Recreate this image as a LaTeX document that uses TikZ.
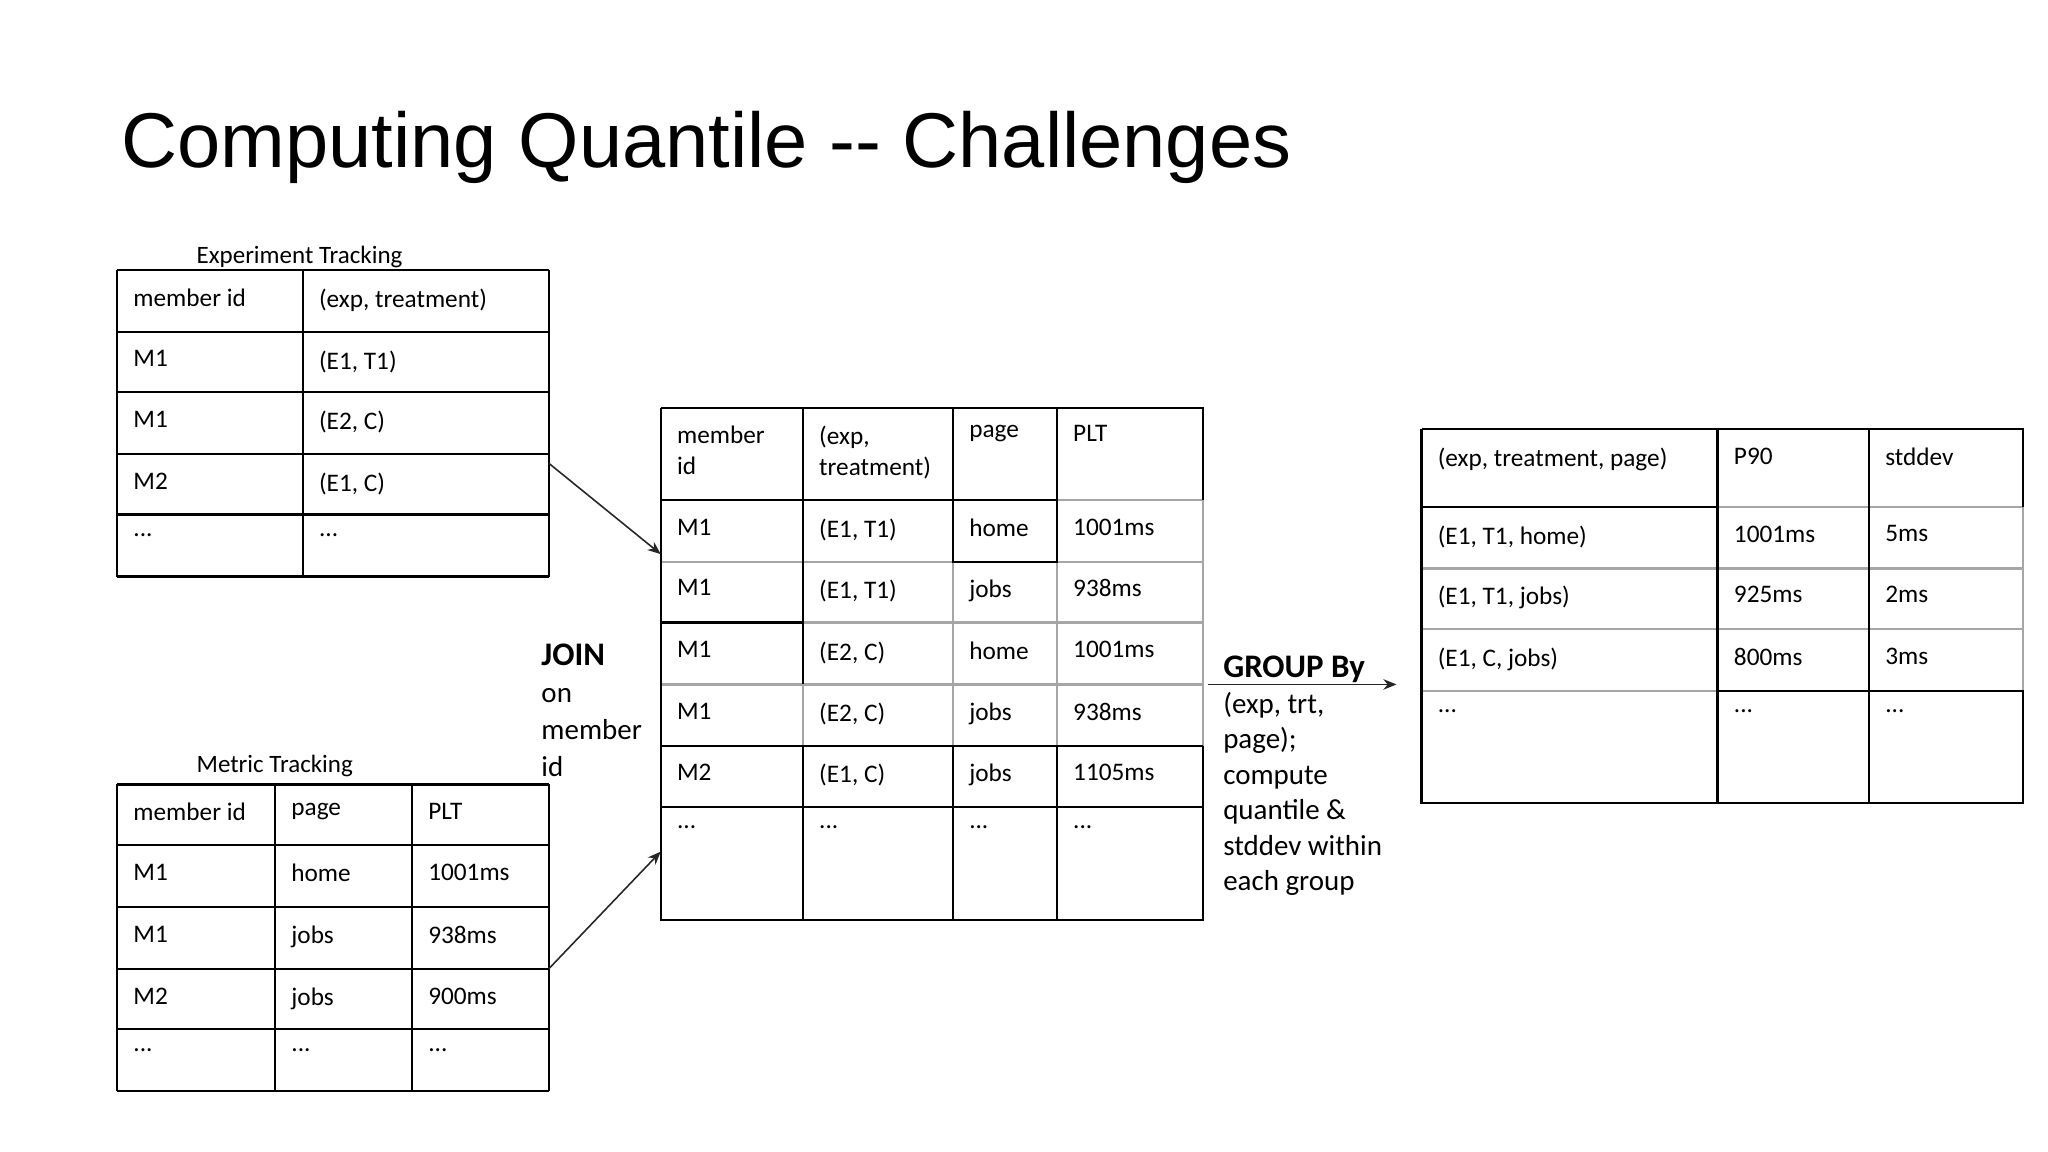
\documentclass[tikz,border=0pt]{standalone}
\usepackage{fontspec}
\setmainfont{Carlito}
\newfontfamily\titlefont{Liberation Sans}
\usetikzlibrary{arrows.meta}
\begin{document}
\begin{tikzpicture}[x=0.5pt,y=-0.5pt,
  cell/.style={anchor=north west,inner sep=0pt,font=\fontsize{9.6}{11.8}\selectfont,align=left},
  bl/.style={black,line width=0.9pt},
  gr/.style={black!35,line width=0.9pt},
  arr/.style={-{Stealth[length=5pt,width=4pt]},black!85,line width=0.6pt}]
\useasboundingbox (0,0) rectangle (1556,875);
\node[anchor=base west,inner sep=0pt,font=\titlefont\fontsize{29.5}{34}\selectfont] (title) at (92,127) {Computing Quantile -- Challenges};
% Experiment tracking
\node[anchor=base west,inner sep=0pt,font=\fontsize{9.5}{11}\selectfont] (lab1) at (149,200) {Experiment Tracking};
\foreach \y in {205,252,298,345,391,438} \draw[bl] (89,\y) -- (417,\y);
\foreach \x in {89,230,417} \draw[bl] (\x,205) -- (\x,438);
\node[cell] (e11) at (101,219) {member id}; \node[cell] (e12) at (242,219) {(exp, treatment)};
\node[cell] (e21) at (101,266) {M1}; \node[cell] (e22) at (242,266) {(E1, T1)};
\node[cell] (e31) at (101,312) {M1}; \node[cell] (e32) at (242,312) {(E2, C)};
\node[cell] (e41) at (101,359) {M2}; \node[cell] (e42) at (242,359) {(E1, C)};
\node[cell] (e51) at (101,405) {...}; \node[cell] (e52) at (242,405) {...};
\coordinate (eout) at (417,352);
% Metric tracking
\node[anchor=base west,inner sep=0pt,font=\fontsize{9.5}{11}\selectfont] (lab2) at (149,587) {Metric Tracking};
\foreach \y in {596,642,689,736,782,829} \draw[bl] (89,\y) -- (417,\y);
\foreach \x in {89,209,313,417} \draw[bl] (\x,596) -- (\x,829);
\node[cell] (m11) at (101,610) {member id}; \node[cell] (m12) at (221,610) {page}; \node[cell] (m13) at (325,610) {PLT};
\node[cell] (m21) at (101,656) {M1}; \node[cell] (m22) at (221,656) {home}; \node[cell] (m23) at (325,656) {1001ms};
\node[cell] (m31) at (101,703) {M1}; \node[cell] (m32) at (221,703) {jobs}; \node[cell] (m33) at (325,703) {938ms};
\node[cell] (m41) at (101,750) {M2}; \node[cell] (m42) at (221,750) {jobs}; \node[cell] (m43) at (325,750) {900ms};
\node[cell] (m51) at (101,796) {...}; \node[cell] (m52) at (221,796) {...}; \node[cell] (m53) at (325,796) {...};
\coordinate (mout) at (417,736);
% Joined table
\draw[gr] (803,380) -- (914,380);
\draw[gr] (502,427) -- (914,427) (502,473) -- (914,473) (502,520) -- (914,520);
\draw[gr] (914,380) -- (914,567);
\draw[gr] (724,427) -- (724,567) (803,427) -- (803,567) (610,520) -- (610,567);
\draw[bl] (502,310) -- (914,310) -- (914,380);
\draw[bl] (502,380) -- (803,380) -- (803,310) (724,310) -- (724,427) -- (803,427) -- (803,380);
\draw[bl] (502,473) -- (610,473);
\draw[bl] (502,567) -- (914,567) (502,613) -- (914,613);
\draw[bl] (502,310) -- (502,699) -- (914,699) -- (914,567);
\draw[bl] (610,310) -- (610,520) (610,567) -- (610,699) (724,567) -- (724,699) (803,567) -- (803,699);
\node[cell] (j11) at (514,323) {member\\id}; \node[cell] (j12) at (622,323) {(exp,\\treatment)};
\node[cell] (j13) at (736,323) {page}; \node[cell] (j14) at (815,323) {PLT};
\node[cell] (j21) at (514,394) {M1}; \node[cell] (j22) at (622,394) {(E1, T1)}; \node[cell] (j23) at (736,394) {home}; \node[cell] (j24) at (815,394) {1001ms};
\node[cell] (j31) at (514,440) {M1}; \node[cell] (j32) at (622,440) {(E1, T1)}; \node[cell] (j33) at (736,440) {jobs}; \node[cell] (j34) at (815,440) {938ms};
\node[cell] (j41) at (514,487) {M1}; \node[cell] (j42) at (622,487) {(E2, C)}; \node[cell] (j43) at (736,487) {home}; \node[cell] (j44) at (815,487) {1001ms};
\node[cell] (j51) at (514,534) {M1}; \node[cell] (j52) at (622,534) {(E2, C)}; \node[cell] (j53) at (736,534) {jobs}; \node[cell] (j54) at (815,534) {938ms};
\node[cell] (j61) at (514,580) {M2}; \node[cell] (j62) at (622,580) {(E1, C)}; \node[cell] (j63) at (736,580) {jobs}; \node[cell] (j64) at (815,580) {1105ms};
\node[cell] (j71) at (514,627) {...}; \node[cell] (j72) at (622,627) {...}; \node[cell] (j73) at (736,627) {...}; \node[cell] (j74) at (815,627) {...};
\coordinate (jin1) at (502,421);
\coordinate (jin2) at (502,647);
\draw[arr] (eout) -- (jin1);
\draw[arr] (mout) -- (jin2);
% JOIN label
\node[anchor=north west,inner sep=0pt,align=left,font=\fontsize{11}{14}\selectfont] (join) at (411,489) {\textbf{\fontsize{12.5}{14}\selectfont JOIN}\\on\\member\\id};
% GROUP label
\node[anchor=north west,inner sep=0pt,align=left,font=\fontsize{11}{13.5}\selectfont] (grp) at (929,498) {\textbf{\fontsize{12.5}{14}\selectfont GROUP By}\\(exp, trt,\\page);\\compute\\quantile \&\\stddev within\\each group};
\coordinate (gs) at (918,520);
\coordinate (ge) at (1061,520);
\draw[arr] (gs) -- (ge);
% Result table
\draw[gr] (1305,385) -- (1537,385) (1080,432) -- (1537,432) (1080,478) -- (1537,478) (1080,525) -- (1305,525);
\draw[gr] (1537,385) -- (1537,525);
\draw[bl] (1080,326) -- (1537,326) -- (1537,385) (1080,385) -- (1305,385);
\draw[bl] (1305,525) -- (1537,525) -- (1537,610) -- (1080,610) -- (1080,326);
\draw[bl] (1305,326) -- (1305,610) (1420,326) -- (1420,610);
\node[cell] (r11) at (1092,340) {(exp, treatment, page)}; \node[cell] (r12) at (1317,340) {P90}; \node[cell] (r13) at (1432,340) {stddev};
\node[cell] (r21) at (1092,399) {(E1, T1, home)}; \node[cell] (r22) at (1317,399) {1001ms}; \node[cell] (r23) at (1432,399) {5ms};
\node[cell] (r31) at (1092,445) {(E1, T1, jobs)}; \node[cell] (r32) at (1317,445) {925ms}; \node[cell] (r33) at (1432,445) {2ms};
\node[cell] (r41) at (1092,492) {(E1, C, jobs)}; \node[cell] (r42) at (1317,492) {800ms}; \node[cell] (r43) at (1432,492) {3ms};
\node[cell] (r51) at (1092,539) {...}; \node[cell] (r52) at (1317,539) {...}; \node[cell] (r53) at (1432,539) {...};
\end{tikzpicture}
\end{document}
